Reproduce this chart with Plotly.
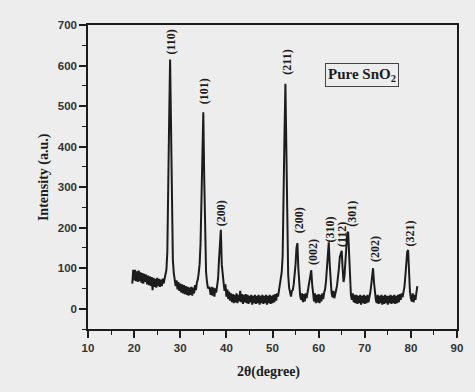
import plotly.graph_objects as go

start_two_theta = 19.6
step_two_theta = 0.2
intensity = [
    62, 96,                        # 19.6 - 19.8
    70, 96, 68, 92, 66,            # 20
    94, 68, 90, 64, 88,            # 21
    62, 86, 66, 84, 60,            # 22
    82, 58, 80, 56, 78,            # 23
    46, 76, 54, 74, 52,            # 24
    76, 56, 74, 54, 72,            # 25
    56, 74, 62, 76, 84,            # 26
    96, 140, 260, 470, 615,        # 27
    430, 210, 120, 88, 70,         # 28
    56, 70, 48, 66, 44,            # 29
    62, 40, 60, 38, 58,            # 30
    36, 56, 34, 54, 32,            # 31
    52, 34, 54, 32, 52,            # 32
    38, 58, 46, 64, 72,            # 33
    88, 110, 160, 290, 410,        # 34
    485, 320, 150, 90, 66,         # 35
    50, 54, 48, 34, 54,            # 36
    32, 52, 30, 50, 40,            # 37
    56, 74, 120, 175, 195,         # 38
    110, 72, 64, 44, 60,           # 39
    30, 48, 24, 42, 20,            # 40
    38, 16, 36, 14, 34,            # 41
    16, 38, 14, 34, 18,            # 42
    44, 16, 36, 12, 34,            # 43
    16, 36, 14, 34, 12,            # 44
    32, 16, 34, 10, 32,            # 45
    14, 34, 12, 32, 14,            # 46
    34, 10, 32, 14, 34,            # 47
    12, 32, 14, 34, 10,            # 48
    32, 14, 34, 12, 32,            # 49
    14, 34, 16, 36, 20,            # 50
    38, 30, 46, 52, 66,            # 51
    90, 130, 240, 430, 555,        # 52
    380, 170, 84, 52, 40,          # 53
    30, 44, 46, 60, 80,            # 54
    110, 150, 162, 100, 58,        # 55
    32, 22, 38, 16, 36,            # 56
    18, 38, 26, 40, 50,            # 57
    70, 88, 95, 60, 36,            # 58
    18, 38, 14, 34, 16,            # 59
    36, 14, 34, 18, 38,            # 60
    24, 40, 48, 68, 105,           # 61
    150, 164, 110, 62, 40,         # 62
    28, 44, 26, 42, 46,            # 63
    58, 76, 100, 128, 140,         # 64
    143, 100, 66, 80, 110,         # 65
    150, 185, 190, 120, 62,        # 66
    34, 22, 38, 16, 34,            # 67
    14, 34, 12, 32, 14,            # 68
    34, 10, 32, 14, 34,            # 69
    12, 32, 14, 34, 16,            # 70
    36, 40, 58, 88, 100,           # 71
    66, 34, 22, 14, 34,            # 72
    12, 32, 14, 34, 10,            # 73
    32, 12, 34, 14, 32,            # 74
    10, 32, 14, 34, 12,            # 75
    32, 14, 34, 12, 32,            # 76
    14, 34, 16, 36, 22,            # 77
    38, 28, 42, 54, 80,            # 78
    115, 140, 145, 80, 42,         # 79
    26, 18, 38, 16, 34,            # 80
    22, 40, 56,                    # 81.0 - 81.4
]
two_theta = [round(start_two_theta + step_two_theta * i, 2) for i in range(len(intensity))]

peak_labels = ["(110)", "(101)", "(200)", "(211)", "(200)", "(002)",
               "(310)", "(112)", "(301)", "(202)", "(321)"]
label_x = [28.0, 35.2, 38.9, 53.1, 55.8, 58.9, 62.5, 65.1, 67.2, 72.2, 79.7]
label_y = [657, 537, 236, 609, 219, 139, 196, 182, 234, 147, 187]

x_ticks = [10, 20, 30, 40, 50, 60, 70, 80, 90]
y_ticks = [0, 100, 200, 300, 400, 500, 600, 700]

BG = "#ededed"
INK = "#1c1c1c"
SERIF = "Liberation Serif, Times New Roman, serif"
SANS = "Liberation Sans, Arial, sans-serif"

fig = go.Figure()
fig.add_trace(go.Scatter(
    x=two_theta, y=intensity, mode="lines",
    line=dict(color=INK, width=2), showlegend=False,
))

for txt, lx, ly in zip(peak_labels, label_x, label_y):
    fig.add_annotation(x=lx, y=ly, text="<b>" + txt + "</b>", textangle=-90,
                       showarrow=False, xanchor="center", yanchor="middle",
                       font=dict(family=SERIF, size=12, color=INK))

fig.add_annotation(xref="paper", yref="paper", x=0.743, y=0.836,
                   text="<b>Pure SnO<sub>2</sub></b>", showarrow=False,
                   xanchor="center", yanchor="middle",
                   bordercolor="#444", borderwidth=1, borderpad=2,
                   font=dict(family=SERIF, size=15, color=INK))

fig.add_annotation(xref="paper", yref="paper", x=-0.119, y=0.5,
                   text="<b>Intensity (a.u.)</b>", textangle=-90, showarrow=False,
                   xanchor="center", yanchor="middle",
                   font=dict(family=SERIF, size=14, color=INK))
fig.add_annotation(xref="paper", yref="paper", x=0.49, y=-0.141,
                   text="<b>2θ(degree)</b>", showarrow=False,
                   xanchor="center", yanchor="middle",
                   font=dict(family=SERIF, size=14, color=INK))

axis_common = dict(showline=True, linecolor=INK, linewidth=1.5, mirror=True,
                   ticks="outside", ticklen=7, tickwidth=1.5, tickcolor=INK,
                   showgrid=False, zeroline=False,
                   tickfont=dict(family=SANS, size=11.5, color="#333", weight="bold"))

fig.update_xaxes(range=[10, 90], tickvals=x_ticks,
                 minor=dict(ticks="outside", ticklen=4, tickwidth=1.2, tickcolor=INK, dtick=5, tick0=10),
                 **axis_common)
fig.update_yaxes(range=[-50, 700], tickvals=y_ticks,
                 minor=dict(ticks="outside", ticklen=4, tickwidth=1.2, tickcolor=INK, dtick=50, tick0=0),
                 **axis_common)

fig.update_layout(width=475, height=392,
                  margin=dict(l=88, r=18, t=25, b=63),
                  paper_bgcolor=BG, plot_bgcolor=BG)

fig.write_html("out.html")
